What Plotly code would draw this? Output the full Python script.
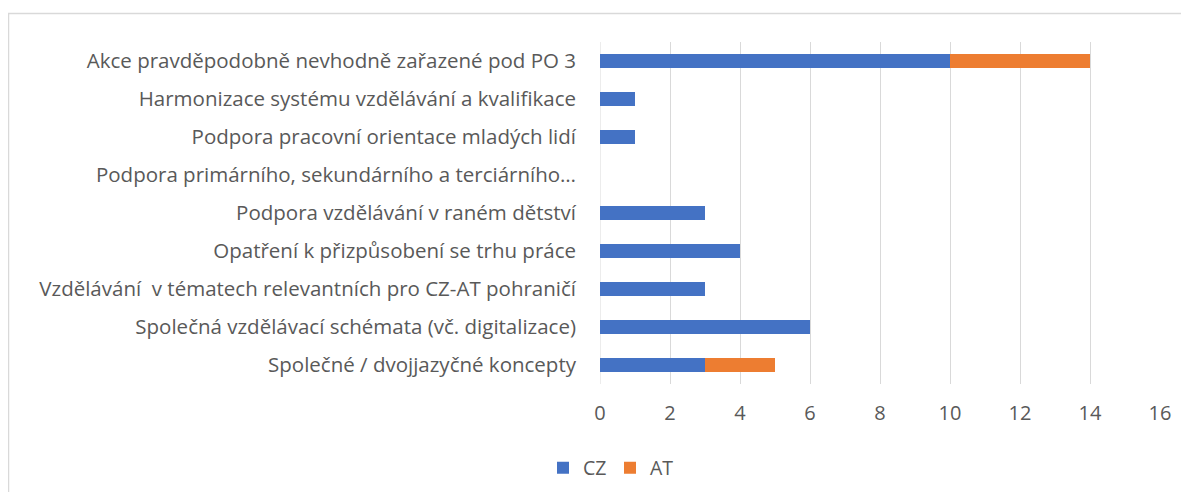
import plotly.graph_objects as go

categories = [
    "Akce pravděpodobně nevhodně zařazené pod PO 3",
    "Harmonizace systému vzdělávání a kvalifikace",
    "Podpora pracovní orientace mladých lidí",
    "Podpora primárního, sekundárního a terciárního…",
    "Podpora vzdělávání v raném dětství",
    "Opatření k přizpůsobení se trhu práce",
    "Vzdělávání  v tématech relevantních pro CZ-AT pohraničí",
    "Společná vzdělávací schémata (vč. digitalizace)",
    "Společné / dvojjazyčné koncepty",
]
cz_values = [10, 1, 1, 0, 3, 4, 3, 6, 3]
at_values = [4, 0, 0, 0, 0, 0, 0, 0, 2]
x_ticks = [0, 2, 4, 6, 8, 10, 12, 14, 16]

FONT = "Open Sans"
TXT = "#595959"
FS = 20.5

fig = go.Figure()
fig.add_trace(go.Bar(y=categories, x=cz_values, name="CZ", orientation="h",
                     marker=dict(color="#4472C4", line=dict(width=0))))
fig.add_trace(go.Bar(y=categories, x=at_values, name="AT", orientation="h",
                     marker=dict(color="#ED7D31", line=dict(width=0))))

# page body has an 8px margin, so the figure is sized to fit inside the window
OFF = 8
W, H = 1189 - 2 * OFF, 500 - 2 * OFF
L, T = 600 - OFF, 42 - OFF
R = W - (1160 - OFF)
B = H - (384 - OFF)
pw, ph = W - L - R, H - T - B

def px_to_paper_x(px):
    return (px - OFF - L) / pw

def px_to_paper_y(py):
    return (H - B - (py - OFF)) / ph

fig.update_layout(
    width=W, height=H,
    barmode="stack", bargap=0.61,
    margin=dict(l=L, r=R, t=T, b=B, pad=0, autoexpand=False),
    paper_bgcolor="white", plot_bgcolor="white",
    font=dict(family=FONT, size=FS, color=TXT),
    showlegend=True,
    legend=dict(orientation="h", x=px_to_paper_x(610), xanchor="center",
                y=px_to_paper_y(468), yanchor="middle",
                font=dict(family=FONT, size=19.5, color=TXT), traceorder="normal",
                itemwidth=30, entrywidth=22, entrywidthmode="pixels"),
    xaxis=dict(range=[0, 16], tickvals=x_ticks, showgrid=True, gridcolor="#D9D9D9", gridwidth=1,
               zeroline=False, showline=False, ticks="", tickfont=dict(size=20, color=TXT),
               ticklabelstandoff=15, fixedrange=True, automargin=False),
    yaxis=dict(autorange="reversed", showgrid=False, zeroline=False, showline=False, ticks="",
               ticklabelstandoff=23, tickfont=dict(size=FS, color=TXT), fixedrange=True,
               automargin=False),
    shapes=[
        dict(type="rect", xref="paper", yref="paper",
             x0=px_to_paper_x(8.5), x1=px_to_paper_x(1300), y0=px_to_paper_y(600), y1=px_to_paper_y(13.5),
             line=dict(color="#D9D9D9", width=1.5), fillcolor="rgba(0,0,0,0)", layer="below"),
        dict(type="line", xref="x", yref="paper", x0=0, x1=0, y0=0, y1=1,
             line=dict(color="#D9D9D9", width=1), layer="below"),
    ],
)

fig.write_html("out.html")
